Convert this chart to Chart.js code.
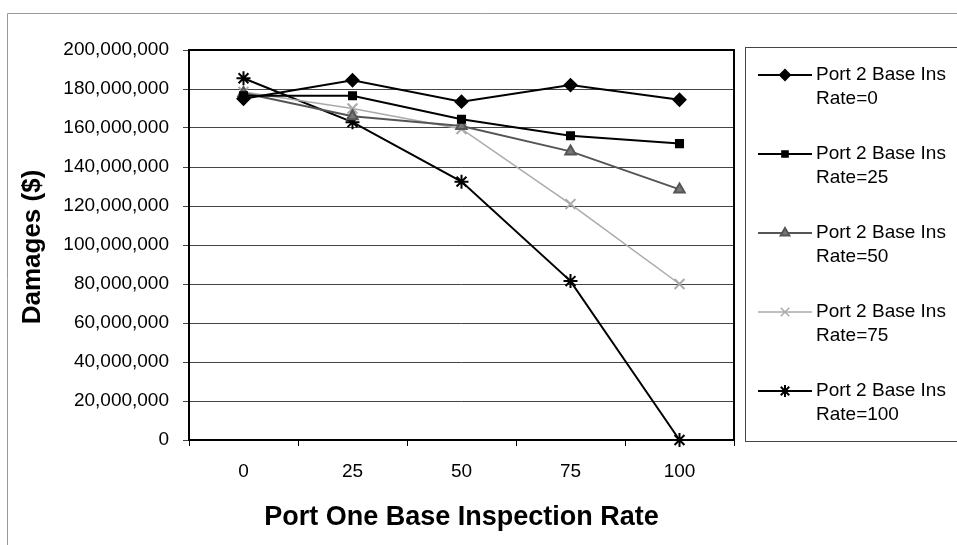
<!DOCTYPE html>
<html>
<head>
<meta charset="utf-8">
<script src="https://cdn.jsdelivr.net/npm/chart.js@4"></script>
<style>
  body { margin: 0; background: #fff; }
  canvas { display: block; }
</style>
</head>
<body>
<canvas id="damagesChart" width="957" height="545"></canvas>
<script>
// values
const categories = ['0', '25', '50', '75', '100'];
const yTicks = [0, 20000000, 40000000, 60000000, 80000000, 100000000, 120000000, 140000000, 160000000, 180000000, 200000000];
const rate0 = [175000000, 184500000, 173500000, 182000000, 174500000];
const rate25 = [176500000, 176500000, 164500000, 156000000, 152000000];
const rate50 = [178000000, 166000000, 161000000, 148000000, 128500000];
const rate75 = [178500000, 170000000, 159500000, 121000000, 80000000];
const rate100 = [185500000, 163000000, 132500000, 81500000, 0];
const seriesNames = [['Port 2 Base Ins', 'Rate=0'], ['Port 2 Base Ins', 'Rate=25'], ['Port 2 Base Ins', 'Rate=50'], ['Port 2 Base Ins', 'Rate=75'], ['Port 2 Base Ins', 'Rate=100']];

const FONT = 'Arial, "Liberation Sans", sans-serif';

const frame = {
    id: 'frame',
    beforeDraw(chart) {
        const c = chart.ctx;
        c.save();
        c.fillStyle = '#fff';
        c.fillRect(0, 0, chart.width, chart.height);
        c.restore();
    },
    afterDraw(chart) {
        const c = chart.ctx;
        const a = chart.chartArea;
        c.save();
        // outer border
        c.strokeStyle = '#999';
        c.lineWidth = 1;
        c.beginPath();
        c.moveTo(7.5, chart.height);
        c.lineTo(7.5, 13.5);
        c.lineTo(chart.width, 13.5);
        c.stroke();
        // plot border
        c.strokeStyle = '#000';
        c.lineWidth = 2;
        c.strokeRect(a.left, a.top, a.right - a.left, a.bottom - a.top);
        // axis titles
        c.fillStyle = '#000';
        c.font = 'bold 27px ' + FONT;
        c.textAlign = 'center';
        c.textBaseline = 'middle';
        c.fillText('Port One Base Inspection Rate', (a.left + a.right) / 2, 518);
        c.save();
        c.translate(33, 247);
        c.rotate(-Math.PI / 2);
        c.font = 'bold 26px ' + FONT;
        c.fillText('Damages ($)', 0, 0);
        c.restore();
        // legend
        c.strokeStyle = '#444';
        c.lineWidth = 1;
        c.strokeRect(745.5, 47.5, 240, 394);
        c.font = '19px ' + FONT;
        c.textAlign = 'left';
        chart.data.datasets.forEach((ds, i) => {
            const y = 75 + i * 79;
            c.strokeStyle = ds.borderColor;
            c.lineWidth = ds.borderWidth;
            c.beginPath();
            c.moveTo(758, y);
            c.lineTo(812, y);
            c.stroke();
            c.fillStyle = ds.pointBackgroundColor;
            c.strokeStyle = ds.pointBorderColor;
            Chart.helpers.drawPoint(c, {
                pointStyle: ds.pointStyle,
                radius: ds.pointRadius - 1,
                rotation: 0,
                borderWidth: ds.pointBorderWidth
            }, 785, y);
            c.fillStyle = '#000';
            c.fillText(seriesNames[i][0], 816, y);
            c.fillText(seriesNames[i][1], 816, y + 24);
        });
        c.restore();
    }
};

function series(data, color, style, radius, width, fill) {
    return {
        data: data,
        borderColor: color,
        borderWidth: width,
        pointStyle: style,
        pointRadius: radius,
        pointHoverRadius: radius,
        pointBackgroundColor: fill,
        pointBorderColor: color,
        pointBorderWidth: 2,
        tension: 0,
        clip: false
    };
}

new Chart(document.getElementById('damagesChart').getContext('2d'), {
    type: 'line',
    data: {
        labels: categories,
        datasets: [
            series(rate0, '#000', 'rectRot', 6, 2, '#000'),
            series(rate25, '#000', 'rect', 5, 2, '#000'),
            series(rate50, '#555', 'triangle', 6, 2, '#777'),
            series(rate75, '#aaa', 'crossRot', 7, 1.5, '#aaa'),
            series(rate100, '#000', 'star', 7, 2, '#000')
        ]
    },
    options: {
        responsive: false,
        animation: false,
        events: [],
        layout: { padding: { left: 8, top: 50, right: 223, bottom: 0 } },
        plugins: {
            legend: { display: false },
            tooltip: { enabled: false }
        },
        scales: {
            x: {
                offset: true,
                afterFit: s => { s.height = 105; },
                grid: { offset: true, drawOnChartArea: false, color: '#000', tickLength: 6 },
                border: { display: false },
                ticks: { color: '#000', font: { size: 19, family: FONT }, padding: 14 }
            },
            y: {
                min: 0,
                max: 200000000,
                afterFit: s => { s.width = 181; },
                afterBuildTicks: s => { s.ticks = yTicks.map(v => ({ value: v })); },
                grid: { color: '#444', lineWidth: 1, tickLength: 6 },
                border: { display: false },
                ticks: {
                    color: '#000',
                    font: { size: 19, family: FONT },
                    padding: 14,
                    callback: v => v.toLocaleString('en-US')
                }
            }
        }
    },
    plugins: [frame]
});
</script>
</body>
</html>
